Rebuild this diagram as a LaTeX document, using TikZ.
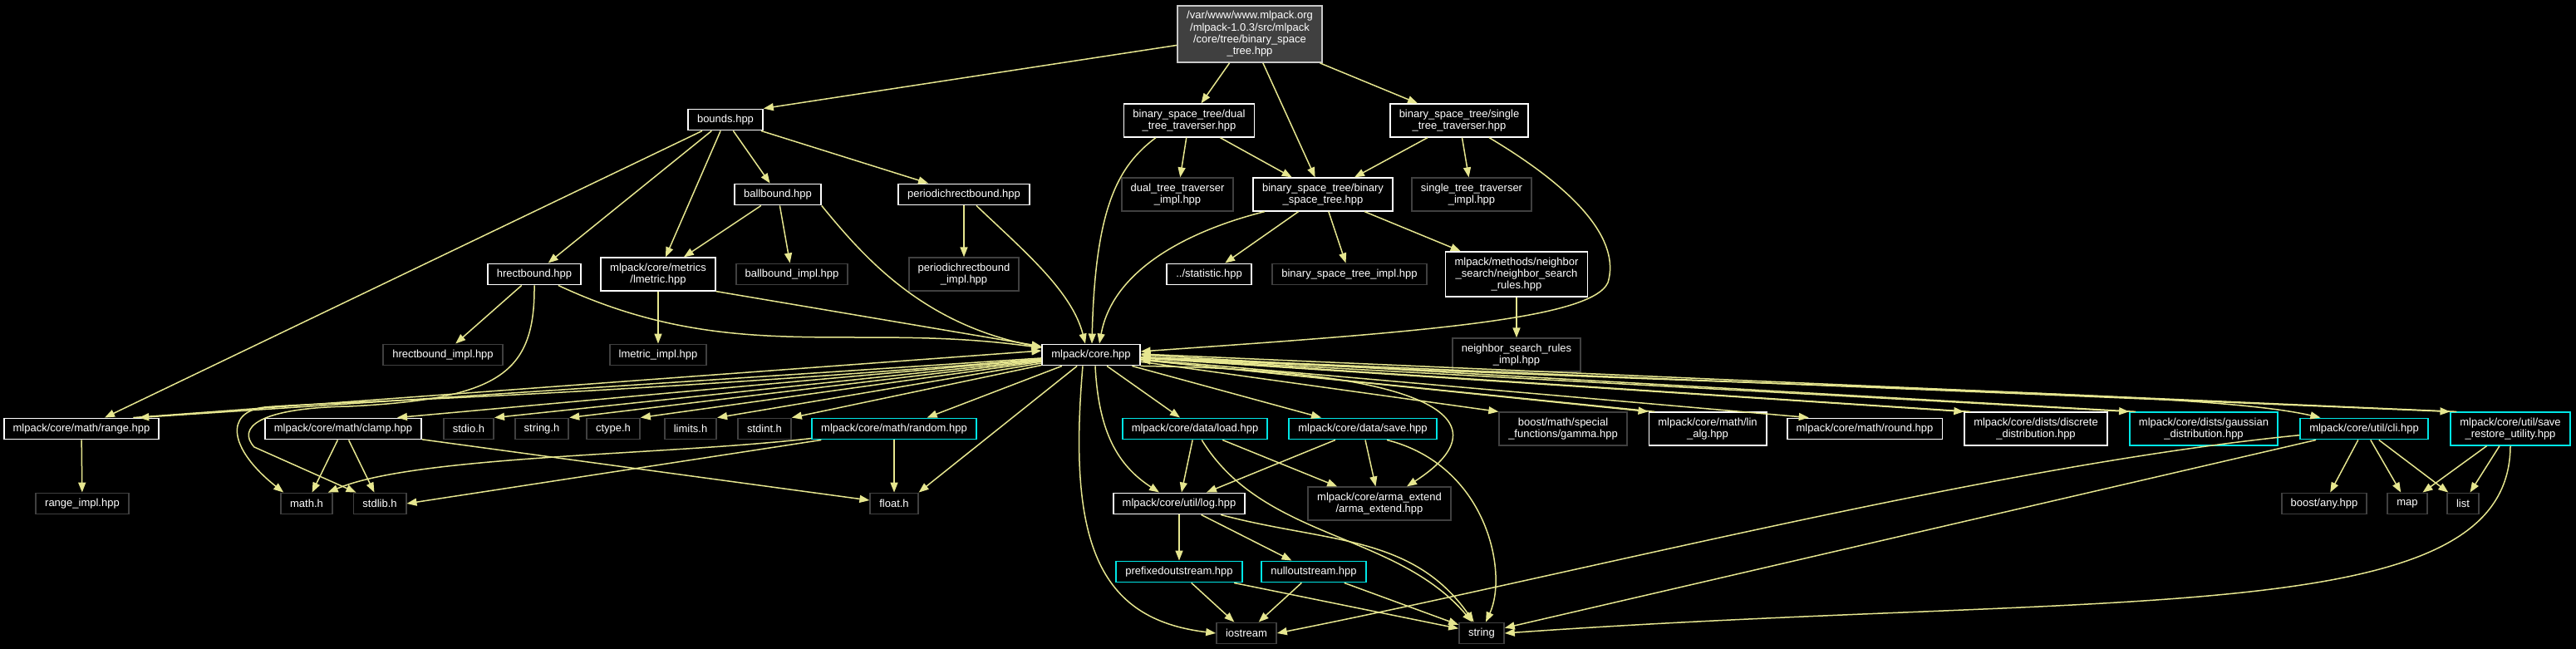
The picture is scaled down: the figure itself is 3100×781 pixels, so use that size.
\documentclass[tikz,border=0pt]{standalone}
\usepackage{fontspec}
\setmainfont{Liberation Sans}
\usetikzlibrary{arrows.meta}
\definecolor{incyellow}{RGB}{230,230,143}
\definecolor{rootgray}{RGB}{64,64,64}
\definecolor{rootedge}{RGB}{200,200,200}
\definecolor{sysgray}{RGB}{64,64,64}
\definecolor{cutcyan}{RGB}{0,230,230}

\begin{document}
\begin{tikzpicture}[x=1pt, y=-1pt,
  hfile/.style={draw=white, fill=black, text=white, line width=1.8pt, inner xsep=11pt, inner ysep=6.5pt, minimum height=25pt, align=center, font=\fontsize{13}{14.3}\selectfont},
  sysfile/.style={hfile, draw=sysgray},
  cutfile/.style={hfile, draw=cutcyan},
  rootfile/.style={hfile, draw=rootedge, fill=rootgray},
  inc/.style={draw=incyellow, line width=1.5pt, -{Triangle[length=12pt, width=9pt]}}
]
  \useasboundingbox (0,0) rectangle (3100,781);
  \fill[black] (0,0) rectangle (3100,781);

  \node[rootfile] (root) at (1504,41) {/var/www/www.mlpack.org\\/mlpack-1.0.3/src/mlpack\\/core/tree/binary\_space\\\_tree.hpp};

  \node[hfile] (bounds) at (873,144) {bounds.hpp};
  \node[hfile] (dual) at (1431,145) {binary\_space\_tree/dual\\\_tree\_traverser.hpp};
  \node[hfile] (single) at (1756,145) {binary\_space\_tree/single\\\_tree\_traverser.hpp};

  \node[hfile] (ballbound) at (936,234) {ballbound.hpp};
  \node[hfile] (periodic) at (1160,234) {periodichrectbound.hpp};
  \node[sysfile] (dualimpl) at (1417,234) {dual\_tree\_traverser\\\_impl.hpp};
  \node[hfile] (bst) at (1592,234) {binary\_space\_tree/binary\\\_space\_tree.hpp};
  \node[sysfile] (singleimpl) at (1771,234) {single\_tree\_traverser\\\_impl.hpp};

  \node[hfile] (hrect) at (643,330) {hrectbound.hpp};
  \node[hfile] (lmetric) at (792,330) {mlpack/core/metrics\\/lmetric.hpp};
  \node[sysfile] (ballimpl) at (953,330) {ballbound\_impl.hpp};
  \node[sysfile] (periodicimpl) at (1160,330) {periodichrectbound\\\_impl.hpp};
  \node[hfile] (stat) at (1455,330) {../statistic.hpp};
  \node[sysfile] (bstimpl) at (1624,330) {binary\_space\_tree\_impl.hpp};
  \node[hfile] (nsr) at (1825,330) {mlpack/methods/neighbor\\\_search/neighbor\_search\\\_rules.hpp};

  \node[sysfile] (hrectimpl) at (533,427) {hrectbound\_impl.hpp};
  \node[sysfile] (lmetricimpl) at (792,427) {lmetric\_impl.hpp};
  \node[hfile] (core) at (1313,427) {mlpack/core.hpp};
  \node[sysfile] (nsrimpl) at (1825,427) {neighbor\_search\_rules\\\_impl.hpp};

  \node[hfile] (range) at (98,516) {mlpack/core/math/range.hpp};
  \node[hfile] (clamp) at (413,516) {mlpack/core/math/clamp.hpp};
  \node[sysfile] (stdio) at (564,516) {stdio.h};
  \node[sysfile] (stringh) at (652,516) {string.h};
  \node[sysfile] (ctype) at (738,516) {ctype.h};
  \node[sysfile] (limits) at (831,516) {limits.h};
  \node[sysfile] (stdint) at (920,516) {stdint.h};
  \node[cutfile] (random) at (1076,516) {mlpack/core/math/random.hpp};
  \node[cutfile] (load) at (1438,516) {mlpack/core/data/load.hpp};
  \node[cutfile] (save) at (1640,516) {mlpack/core/data/save.hpp};
  \node[sysfile] (gamma) at (1881,516) {boost/math/special\\\_functions/gamma.hpp};
  \node[hfile] (linalg) at (2055,516) {mlpack/core/math/lin\\\_alg.hpp};
  \node[hfile] (round) at (2244,516) {mlpack/core/math/round.hpp};
  \node[hfile] (discrete) at (2450,516) {mlpack/core/dists/discrete\\\_distribution.hpp};
  \node[cutfile] (gaussian) at (2652,516) {mlpack/core/dists/gaussian\\\_distribution.hpp};
  \node[cutfile] (cli) at (2845,516) {mlpack/core/util/cli.hpp};
  \node[cutfile] (saverest) at (3021,516) {mlpack/core/util/save\\\_restore\_utility.hpp};

  \node[sysfile] (rangeimpl) at (99,606) {range\_impl.hpp};
  \node[sysfile] (mathh) at (369,606) {math.h};
  \node[sysfile] (stdlibh) at (457,606) {stdlib.h};
  \node[sysfile] (floath) at (1076,606) {float.h};
  \node[hfile] (log) at (1419,606) {mlpack/core/util/log.hpp};
  \node[sysfile] (arma) at (1660,606) {mlpack/core/arma\_extend\\/arma\_extend.hpp};
  \node[sysfile] (anyh) at (2797,606) {boost/any.hpp};
  \node[sysfile] (map) at (2897,606) {map};
  \node[sysfile] (list) at (2964,606) {list};

  \node[cutfile] (prefixed) at (1419,688) {prefixedoutstream.hpp};
  \node[cutfile] (nullout) at (1581,688) {nulloutstream.hpp};

  \node[sysfile] (iostream) at (1500,762) {iostream};
  \node[sysfile] (string) at (1783,762) {string};

  % binary_space_tree.hpp and its bounds
  \draw[inc] (root) -- (bounds.north east);
  \draw[inc] (root) -- (dual);
  \draw[inc] (root) -- (bst);
  \draw[inc] (root) -- (single);
  \draw[inc] (bounds) -- (range);
  \draw[inc] (bounds) -- (hrect);
  \draw[inc] (bounds) -- (lmetric);
  \draw[inc] (bounds) -- (ballbound);
  \draw[inc] (bounds) -- (periodic);
  \draw[inc] (ballbound) -- (lmetric);
  \draw[inc] (ballbound) -- (ballimpl);
  \draw[inc] (ballbound.south east) .. controls (1040,310) and (1110,390) .. ([yshift=9pt]core.west);
  \draw[inc] (periodic) -- (periodicimpl);
  \draw[inc] ([xshift=15pt]periodic.south) .. controls (1230,300) and (1290,350) .. ([xshift=-7pt]core.north);
  \draw[inc] (hrect) -- (hrectimpl);
  \draw[inc] (hrect.south) .. controls (644,450) and (600,480) .. (420,489) .. controls (310,491) and (285,515) .. (306,538) -- ([xshift=4pt]stdlibh.north west);
  \draw[inc] (hrect) to[out=-25, in=172] (core);
  \draw[inc] (lmetric) -- (lmetricimpl);
  \draw[inc] (lmetric.south east) -- (core);
  \draw[inc] (dual) -- (dualimpl);
  \draw[inc] (dual) -- (bst);
  \draw[inc] ([xshift=-40pt]dual.south) .. controls (1345,200) and (1318,250) .. ([xshift=1pt]core.north);
  \draw[inc] (single) -- (bst);
  \draw[inc] (single) -- (singleimpl);
  \draw[inc] ([xshift=36pt]single.south) .. controls (1900,230) and (1950,290) .. (1935,340) .. controls (1915,385) and (1700,400) .. ([yshift=4pt]core.east);
  \draw[inc] (bst) -- (stat);
  \draw[inc] (bst) -- (bstimpl);
  \draw[inc] (bst) -- (nsr);
  \draw[inc] ([xshift=-70pt]bst.south) .. controls (1440,275) and (1340,320) .. ([xshift=10pt]core.north);
  \draw[inc] (nsr) -- (nsrimpl);

  % mlpack/core.hpp
  \draw[inc] (core) -- ([xshift=-25pt]range.north east);
  \draw[inc] ([xshift=-32pt]range.north east) -- ([yshift=5pt]core.west);
  \draw[inc] (core) -- ([xshift=-30pt]clamp.north east);
  \draw[inc] (core) -- (stdio.north east);
  \draw[inc] (core) -- (stringh.north east);
  \draw[inc] (core) -- (ctype.north east);
  \draw[inc] (core) -- (limits.north east);
  \draw[inc] (core) -- (stdint.north east);
  \draw[inc] (core) -- ([xshift=-60pt]random.north east);
  \draw[inc] (core) -- ([xshift=-18pt]load.north);
  \draw[inc] (core) -- ([xshift=-50pt]save.north);
  \draw[inc] (core) -- (gamma.north west);
  \draw[inc] (core) -- (linalg.north west);
  \draw[inc] ([xshift=8pt]linalg.north west) -- ([yshift=-6pt]core.east);
  \draw[inc] (core) -- ([xshift=27pt]round.north west);
  \draw[inc] (core) -- (discrete.north west);
  \draw[inc] ([xshift=8pt]discrete.north west) -- ([yshift=-3pt]core.east);
  \draw[inc] (core) -- (gaussian.north west);
  \draw[inc] ([xshift=8pt]gaussian.north west) -- (core.east);
  \draw[inc] (core) .. controls (2200,470) and (2650,470) .. ([xshift=25pt]cli.north west);
  \draw[inc] (core) -- (saverest.north west);
  \draw[inc] ([xshift=8pt]saverest.north west) -- ([yshift=1pt]core.east);
  \draw[inc] (core) -- (floath.north east);
  \draw[inc] ([xshift=-10pt]core.south) .. controls (1285,650) and (1320,745) .. (iostream.west);
  \draw[inc] ([xshift=5pt]core.south) .. controls (1322,520) and (1345,560) .. ([xshift=-24pt]log.north);
  \draw[inc] (core.south east) .. controls (1740,445) and (1810,510) .. ([xshift=33pt]arma.north);
  \draw[inc] (core) .. controls (700,478) and (380,484) .. (318,490) .. controls (270,496) and (275,540) .. ([xshift=4pt]mathh.north west);

  % data, util and math headers
  \draw[inc] (load) -- (log);
  \draw[inc] (load) -- (arma);
  \draw[inc] (load) .. controls (1520,650) and (1680,640) .. (string);
  \draw[inc] (save) -- (log);
  \draw[inc] (save) -- (arma);
  \draw[inc] ([xshift=29pt]save.south) .. controls (1790,560) and (1815,690) .. ([xshift=5pt]string.north);
  \draw[inc] (log) -- (prefixed);
  \draw[inc] (log) -- (nullout);
  \draw[inc] (log) to[out=-15, in=125] (string);
  \draw[inc] (prefixed) -- (iostream);
  \draw[inc] (prefixed) -- (string);
  \draw[inc] (nullout) -- (iostream);
  \draw[inc] (nullout) -- (string);
  \draw[inc] (random) .. controls (800,548) and (500,548) .. ([xshift=-6pt]mathh.north east);
  \draw[inc] (random) -- (stdlibh.east);
  \draw[inc] (random) -- (floath);
  \draw[inc] (clamp) -- (mathh);
  \draw[inc] (clamp) -- (stdlibh);
  \draw[inc] (clamp) -- (floath);
  \draw[inc] (range) -- (rangeimpl);
  \draw[inc] (cli) -- (anyh);
  \draw[inc] (cli) -- (map);
  \draw[inc] (cli) -- (list);
  \draw[inc] (cli) .. controls (2400,560) and (1900,690) .. (iostream.east);
  \draw[inc] (cli) -- (string);
  \draw[inc] (saverest) -- (map);
  \draw[inc] (saverest) -- (list);
  \draw[inc] (saverest.south) .. controls (3020,760) and (2550,710) .. (string.east);
\end{tikzpicture}
\end{document}
